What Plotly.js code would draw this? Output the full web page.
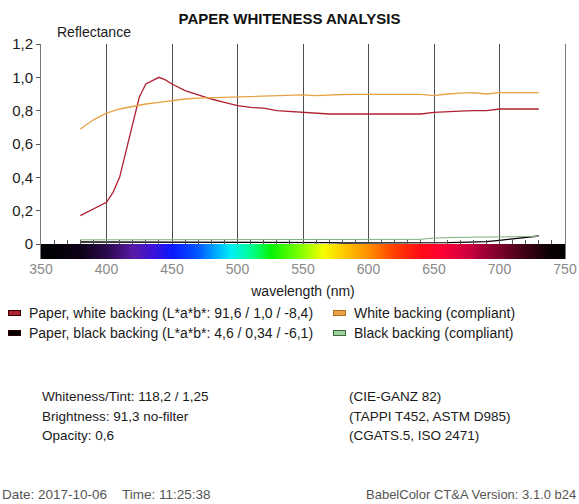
<!DOCTYPE html>
<html>
<head>
<meta charset="utf-8">
<script src="https://cdn.plot.ly/plotly-3.0.1.min.js"></script>
<style>html,body{margin:0;padding:0;background:#fff;}#chart{width:579px;height:504px;}</style>
</head>
<body>
<div id="chart"></div>
<script>
// ---- data ----
const wlRed = [380,390,400,405,410,415,420,425,430,435,440,445,450,460,470,480,490,500,510,520,530,540,550,560,570,580,590,600,610,620,630,640,650,660,670,680,690,700,710,720,730];
const paperWhite = [0.17,0.21,0.25,0.31,0.40,0.56,0.72,0.88,0.96,0.98,1.00,0.985,0.96,0.92,0.895,0.87,0.85,0.83,0.82,0.815,0.80,0.795,0.79,0.785,0.78,0.78,0.78,0.78,0.78,0.78,0.78,0.78,0.79,0.795,0.797,0.80,0.80,0.81,0.81,0.81,0.81];

const wl = [380,390,400,410,420,430,440,450,460,470,480,490,500,510,520,530,540,550,560,570,580,590,600,610,620,630,640,650,660,670,680,690,700,710,720,730];
const whiteBacking = [0.69,0.745,0.785,0.81,0.825,0.84,0.85,0.86,0.87,0.875,0.878,0.88,0.882,0.884,0.887,0.89,0.892,0.895,0.89,0.895,0.897,0.898,0.898,0.898,0.898,0.898,0.898,0.89,0.90,0.905,0.908,0.90,0.908,0.908,0.908,0.908];
const paperBlack = [0.012,0.012,0.012,0.012,0.012,0.012,0.008,0.008,0.008,0.008,0.008,0.008,0.008,0.008,0.008,0.008,0.008,0.008,0.008,0.008,0.006,0.006,0.006,0.006,0.005,0.005,0.004,0.006,0.008,0.010,0.012,0.014,0.022,0.030,0.038,0.048];
const blackBacking = [0.025,0.025,0.025,0.025,0.025,0.025,0.025,0.025,0.025,0.025,0.025,0.025,0.025,0.025,0.025,0.025,0.025,0.025,0.025,0.025,0.025,0.025,0.025,0.025,0.025,0.025,0.028,0.036,0.040,0.040,0.041,0.042,0.042,0.043,0.044,0.045];

const spectrumNm = [350,360,370,380,390,400,410,420,430,440,450,460,470,480,490,500,510,520,530,540,550,560,570,580,590,600,610,620,630,640,650,660,670,680,690,700,710,720,730,740,750];
const spectrumBand = [-0.09,-0.045,0];

const seriesNames = ['Paper, white backing (L*a*b*: 91,6 / 1,0 / -8,4)','White backing (compliant)','Paper, black backing (L*a*b*: 4,6 / 0,34 / -6,1)','Black backing (compliant)'];
const yTickVals = [0,0.2,0.4,0.6,0.8,1.0,1.2];
const yTickText = ['0','0,2','0,4','0,6','0,8','1,0','1,2'];
const xTickVals = [350,400,450,500,550,600,650,700,750];
const infoLeft = ['Whiteness/Tint: 118,2 / 1,25','Brightness: 91,3 no-filter','Opacity: 0,6'];
const infoRight = ['(CIE-GANZ 82)','(TAPPI T452, ASTM D985)','(CGATS.5, ISO 2471)'];

// ---- layout helpers (pixel -> paper) ----
const W=579,H=504,ML=41,MR=14,MT=44,MB=245;
const PW=W-ML-MR, PH=H-MT-MB;
const px=x=>(x-ML)/PW, py=y=>(H-MB-y)/PH;
const FONT='Liberation Sans, Arial, sans-serif';
const colors=['#b0212f','#e9a243','#000000','#9fd09c'];

const spectrumScale = [
 [0.000,'#000000'],[0.075,'#0c0016'],[0.125,'#2c0a4e'],[0.175,'#5a1aa8'],[0.2125,'#3a12d8'],
 [0.250,'#0a18ff'],[0.300,'#0058ff'],[0.3375,'#00b4ff'],[0.3625,'#00f0f4'],[0.400,'#00ff90'],
 [0.4375,'#08f208'],[0.4875,'#70ff00'],[0.5375,'#f4ff00'],[0.575,'#ffcc00'],[0.625,'#ff8c00'],
 [0.675,'#ff3c00'],[0.725,'#ff0a18'],[0.7625,'#ff0034'],[0.8125,'#d00040'],[0.8625,'#8a0030'],
 [0.9125,'#4a0018'],[0.9625,'#100004'],[1.0,'#000000']
];

const traces = [
 {type:'heatmap', x:spectrumNm, y:spectrumBand, z:[spectrumNm,spectrumNm], zmin:350, zmax:750,
  colorscale:spectrumScale, showscale:false, zsmooth:'best', hoverinfo:'skip', showlegend:false},
 {type:'scatter', mode:'lines', x:wlRed, y:paperWhite, name:seriesNames[0], line:{color:colors[0],width:1.3}},
 {type:'scatter', mode:'lines', x:wl, y:whiteBacking, name:seriesNames[1], line:{color:colors[1],width:1.3}},
 {type:'scatter', mode:'lines', x:wl, y:paperBlack, name:seriesNames[2], line:{color:colors[2],width:1.3}},
 {type:'scatter', mode:'lines', x:wl, y:blackBacking, name:seriesNames[3], xaxis:'x2', line:{color:'#7fb07c',width:1}}
];

const ann = [];
const txt = (text,x,y,opts={}) => ann.push(Object.assign({text, x:px(x), y:py(y), xref:'paper', yref:'paper', showarrow:false, xanchor:'left', yanchor:'middle', font:{family:FONT,size:13.5,color:'#1a1a1a'}}, opts));

txt('Reflectance',55,32,{font:{family:FONT,size:14,color:'#1a1a1a'}});
// legend (symbols + labels)
const legPos=[[8,313],[333,313],[8,333],[333,333]];
seriesNames.forEach((n,i)=>{
  const [lx,ly]=legPos[i];
  ann.push({text:'', x:px(lx), y:py(ly), xref:'paper', yref:'paper', showarrow:false, xanchor:'left', yanchor:'middle', width:11, height:4, bgcolor:colors[i], bordercolor:i===3?'#3c6a3a':(i===1?'#b07020':'#300000'), borderwidth:1, borderpad:0});
  txt(n, lx+19, ly, {font:{family:FONT,size:14,color:'#1a1a1a'}});
});
infoLeft.forEach((t,i)=>txt(t,40,396+20*i));
infoRight.forEach((t,i)=>txt(t,347,396+20*i));
txt('Date: 2017-10-06&nbsp;&nbsp;&nbsp;&nbsp;Time: 11:25:38',0,494,{font:{family:FONT,size:13.5,color:'#555'}});
txt('BabelColor CT&amp;A Version: 3.1.0 b24',578,494,{xanchor:'right',font:{family:FONT,size:13,color:'#555'}});

const layout = {
  width:W, height:H, margin:{l:ML,r:MR,t:MT,b:MB,pad:0},
  paper_bgcolor:'#fff', plot_bgcolor:'#fff', showlegend:false,
  title:{text:'<b>PAPER WHITENESS ANALYSIS</b>', x:0.5, xref:'container', y:1-19/H, yref:'container', yanchor:'middle', xanchor:'center', font:{family:FONT,size:15,color:'#111'}},
  xaxis:{range:[350,750], tickvals:xTickVals, showgrid:true, gridcolor:'#4d4d55', gridwidth:1, zeroline:false, showline:false, ticks:'',
         tickfont:{family:FONT,size:14,color:'#8a8a8a'}, title:{text:'wavelength (nm)', font:{family:FONT,size:14,color:'#1a1a1a'}, standoff:10}},
  xaxis2:{range:[350,750], overlaying:'x', anchor:'free', position:0.09/1.29, side:'bottom', ticks:'inside', dtick:10, tick0:350, ticklen:4, tickcolor:'#555', showticklabels:false, showgrid:false, zeroline:false, showline:false},
  yaxis:{range:[-0.09,1.2], tickvals:yTickVals, ticktext:yTickText, showgrid:false, zeroline:false, showline:true, mirror:true, linecolor:'#7a7a85', linewidth:1,
         ticks:'outside', ticklen:4, tickcolor:'#555', tickfont:{family:FONT,size:15,color:'#1a1a1a'}},
  yaxis2:{range:[-0.09,1.2], overlaying:'y', tickvals:[1.0,1.2], showgrid:true, gridcolor:'#8a8fa6', showticklabels:false, ticks:'', zeroline:false, showline:false},
  annotations:ann
};
Plotly.newPlot('chart', traces, layout, {displayModeBar:false, staticPlot:true});
</script>
</body>
</html>
